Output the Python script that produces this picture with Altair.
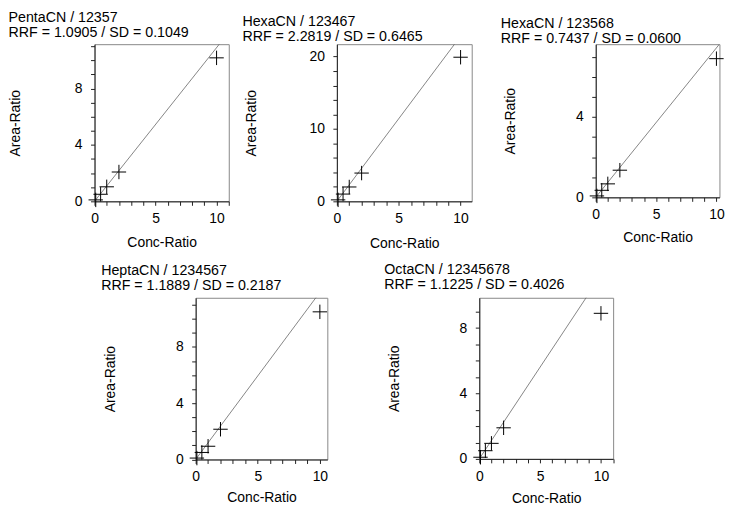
import altair as alt
import pandas as pd

# ---- data ----
compounds = ["PentaCN / 12357", "HexaCN / 123467", "HexaCN / 123568",
             "HeptaCN / 1234567", "OctaCN / 12345678"]
rrf = [1.0905, 2.2819, 0.7437, 1.1889, 1.1225]
sd = [0.1049, 0.6465, 0.0600, 0.2187, 0.4026]
conc_ratio = [0.1, 0.5, 1, 2, 10]
area_penta_12357 = [0.1, 0.5, 1.03, 2.08, 10.18]
area_hexa_123467 = [0.2, 1.0, 1.98, 3.9, 19.9]
area_hexa_123568 = [0.07, 0.35, 0.67, 1.35, 6.9]
area_hepta_1234567 = [0.1, 0.5, 0.94, 2.15, 10.5]
area_octa_12345678 = [0.1, 0.5, 0.95, 1.9, 8.9]
areas = [area_penta_12357, area_hexa_123467, area_hexa_123568,
         area_hepta_1234567, area_octa_12345678]
x_max = [11.0, 10.9, 10.25, 10.6, 11.0]
y_max = [11.15, 21.7, 7.62, 11.5, 9.85]
y_minor_step = [1, 2, 1, 1, 1]
y_label_step = [4, 10, 4, 4, 4]
x_label_step = 5

FONT = "Liberation Sans"
CROSS = "M-1,0H1M0,-1V1"


def every(step):
    return (f"abs(datum.value - {step} * round(datum.value / {step})) < 0.001"
            " ? toString(datum.value) : ''")


def panel(i, w, h, ytitle_x, xtitle_y, title_offset, title_dx):
    xm, ym = x_max[i], y_max[i]
    pts = pd.DataFrame({"x": conc_ratio, "y": areas[i]})
    line_df = pd.DataFrame({"x": [0, xm], "y": [0, rrf[i] * xm]})
    xs = alt.Scale(domain=[0, xm], nice=False, zero=True)
    ys = alt.Scale(domain=[0, ym], nice=False, zero=True)
    xaxis = alt.Axis(
        values=list(range(0, int(xm) + 1)),
        labelExpr=every(x_label_step),
        title="Conc-Ratio", titleY=xtitle_y, titleBaseline="alphabetic",
        labelBaseline="alphabetic", labelPadding=17.5, tickSize=4,
        labelOverlap=False, grid=False, labelFlush=False,
    )
    yaxis = alt.Axis(
        values=list(range(0, int(ym) + 1, y_minor_step[i])),
        labelExpr=every(y_label_step[i]),
        title="Area-Ratio", titleX=ytitle_x, titleBaseline="alphabetic",
        labelPadding=8.5, tickSize=4, labelOverlap=False, grid=False,
        labelFlush=False,
    )
    line = alt.Chart(line_df).mark_line(clip=True, color="#666", strokeWidth=0.8).encode(
        x=alt.X("x:Q", scale=xs, axis=xaxis),
        y=alt.Y("y:Q", scale=ys, axis=yaxis),
    )
    marks = alt.Chart(pts).mark_point(
        shape=CROSS, size=210, color="black", strokeWidth=1, filled=False, opacity=1
    ).encode(
        x=alt.X("x:Q", scale=xs, axis=xaxis),
        y=alt.Y("y:Q", scale=ys, axis=yaxis),
    )
    title = alt.TitleParams(
        text=[compounds[i], f"RRF = {rrf[i]:.4f} / SD = {sd[i]:.4f}"],
        anchor="start", frame="bounds", fontSize=14.3, fontWeight="normal",
        font=FONT, color="black", offset=title_offset, lineHeight=15,
        dx=title_dx,
    )
    return alt.layer(line, marks).properties(width=w, height=h, title=title)


p1 = panel(0, 135, 158, -75.5, 45.5, -0.5, 0)
p2 = panel(1, 135.6, 158, -81.5, 46, -0.5, -2.5)
p3 = panel(2, 124.4, 154, -81.5, 44.7, -2.5, -3)
p4 = panel(3, 132.4, 162.6, -81.5, 42, 4.8, -2.5)
p5 = panel(4, 134.6, 162, -81.5, 44, 5.4, -3)

spacer = alt.Chart(pd.DataFrame({"a": [0]})).mark_point(size=0, opacity=0).encode(
    x=alt.X("a:Q", axis=None), y=alt.Y("a:Q", axis=None)
).properties(width=3, height=1, view=alt.ViewBackground(strokeOpacity=0))

top = alt.hconcat(alt.hconcat(p1, p2, spacing=11.7), p3, spacing=28)
bottom = alt.hconcat(spacer, alt.hconcat(p4, p5, spacing=54.2), spacing=2.7)

chart = alt.vconcat(top, bottom, spacing=11).configure_view(
    stroke="#888", strokeWidth=1
).configure_axis(
    labelFont=FONT, titleFont=FONT, labelFontSize=14, titleFontSize=14,
    titleFontWeight="normal", labelColor="black", titleColor="black",
    domainColor="#222", tickColor="#222", domainWidth=1, tickWidth=1,
    labelOverlap=False,
).properties(padding=0, background="white")

chart.save("out.html", embed_options={"renderer": "svg", "actions": False})
